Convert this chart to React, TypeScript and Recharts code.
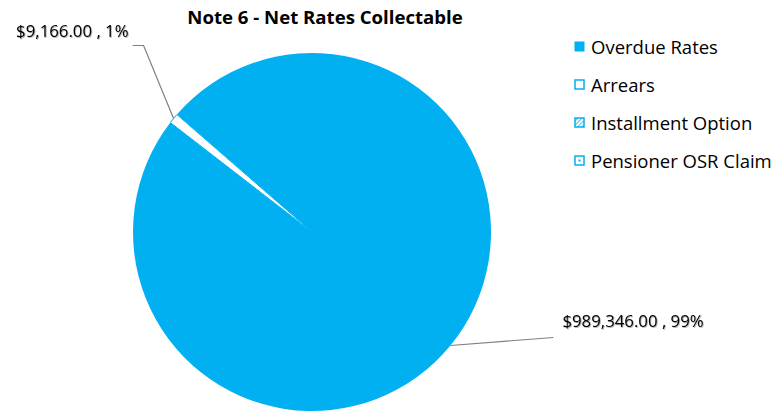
import React from "react";
import { PieChart, Pie, Cell, Legend } from "recharts";

document.body.style.margin = "0";

const categories = ["Overdue Rates", "Arrears", "Installment Option", "Pensioner OSR Claim"];
const amounts = [989346, 9166, 0, 0];
const labelTexts = ["$989,346.00 , 99%", "$9,166.00 , 1%", "", ""];

const data = categories.map((name, i) => ({ name, value: amounts[i], label: labelTexts[i] }));

const BLUE = "#00B0F0";
const FONT = "'Open Sans', Lato, sans-serif";
const fills = [BLUE, "#FFFFFF", "url(#hatch)", "url(#dots)"];

// leader line geometry per slice (relative to the slice's outer edge point)
const leader = [
  { elbowDx: 103, elbowDy: -8, armDx: 0, anchor: "start", tx: 9, ty: -17 },
  { elbowDx: -30, elbowDy: -73, armDx: -11, anchor: "end", tx: -4, ty: -15 },
  null,
  null,
];

const RADIAN = Math.PI / 180;

const renderLabel = (props: any) => {
  const { cx, cy, midAngle, outerRadius, index, value } = props;
  const cfg = leader[index];
  if (!cfg || !value) return null;
  const ex = cx + outerRadius * Math.cos(-midAngle * RADIAN);
  const ey = cy + outerRadius * Math.sin(-midAngle * RADIAN);
  const bx = ex + cfg.elbowDx;
  const by = ey + cfg.elbowDy;
  const ax = bx + cfg.armDx;
  return (
    <g>
      <polyline points={`${ex},${ey} ${bx},${by} ${ax},${by}`} fill="none" stroke="#7F7F7F" strokeWidth={1.2} />
      <text
        x={ax + cfg.tx}
        y={by + cfg.ty}
        textAnchor={cfg.anchor}
        dominantBaseline="central"
        fontFamily={FONT}
        fontSize={16.8}
        fill="#000"
        filter="url(#shadow)"
      >
        {data[index].label}
      </text>
    </g>
  );
};

const LegendContent = () => (
  <div style={{ fontFamily: FONT, fontSize: 18.5, color: "#000" }}>
    {data.map((d, i) => (
      <div key={d.name} style={{ display: "flex", alignItems: "center", height: 38 }}>
        <svg width={11} height={11} style={{ marginRight: 6 }}>
          <defs>
            <pattern id={`lh${i}`} width="3" height="3" patternUnits="userSpaceOnUse" patternTransform="rotate(45)">
              <rect width="3" height="3" fill="#fff" />
              <line x1="0" y1="0" x2="0" y2="3" stroke={BLUE} strokeWidth="1.5" />
            </pattern>
          </defs>
          {i === 0 && <rect x={0.5} y={0.5} width={10} height={10} fill={BLUE} />}
          {i === 1 && <rect x={1} y={1} width={9} height={9} fill="#fff" stroke={BLUE} strokeWidth={1.5} />}
          {i === 2 && <rect x={1} y={1} width={9} height={9} fill={`url(#lh${i})`} stroke={BLUE} strokeWidth={1.5} />}
          {i === 3 && (
            <g>
              <rect x={1} y={1} width={9} height={9} fill="#fff" stroke={BLUE} strokeWidth={1.5} />
              <rect x={4.5} y={4.5} width={2} height={2} fill={BLUE} />
            </g>
          )}
        </svg>
        <span>{d.name}</span>
      </div>
    ))}
  </div>
);

export default function App() {
  return (
    <div style={{ position: "relative", width: 776, height: 411, background: "#fff", overflow: "hidden" }}>
      <div
        style={{
          position: "absolute",
          top: 4,
          left: 0,
          width: 650,
          textAlign: "center",
          fontFamily: FONT,
          fontWeight: 700,
          fontSize: 18.6,
          color: "#000",
          zIndex: 2,
        }}
      >
        Note 6 - Net Rates Collectable
      </div>
      <PieChart width={776} height={411} margin={{ top: 0, right: 0, bottom: 0, left: 0 }}>
        <defs>
          <pattern id="hatch" width="4" height="4" patternUnits="userSpaceOnUse" patternTransform="rotate(45)">
            <rect width="4" height="4" fill="#fff" />
            <line x1="0" y1="0" x2="0" y2="4" stroke={BLUE} strokeWidth="2" />
          </pattern>
          <pattern id="dots" width="4" height="4" patternUnits="userSpaceOnUse">
            <rect width="4" height="4" fill="#fff" />
            <rect x="1" y="1" width="1" height="1" fill={BLUE} />
          </pattern>
          <filter id="shadow" x="-10%" y="-30%" width="130%" height="160%">
            <feDropShadow dx="0.8" dy="0.8" stdDeviation="0.6" floodColor="#000" floodOpacity="0.35" />
          </filter>
        </defs>
        <Pie
          data={data}
          dataKey="value"
          nameKey="name"
          cx={312}
          cy={232}
          outerRadius={179}
          startAngle={139}
          endAngle={-221}
          label={renderLabel}
          labelLine={false}
          isAnimationActive={false}
          stroke="none"
        >
          {data.map((d, i) => (
            <Cell key={d.name} fill={fills[i]} stroke={i === 0 ? "none" : BLUE} strokeWidth={i === 0 ? 0 : 1} />
          ))}
        </Pie>
        <Legend
          layout="vertical"
          align="right"
          verticalAlign="top"
          content={LegendContent}
          wrapperStyle={{ left: 574, top: 27, width: 202 }}
        />
      </PieChart>
    </div>
  );
}
